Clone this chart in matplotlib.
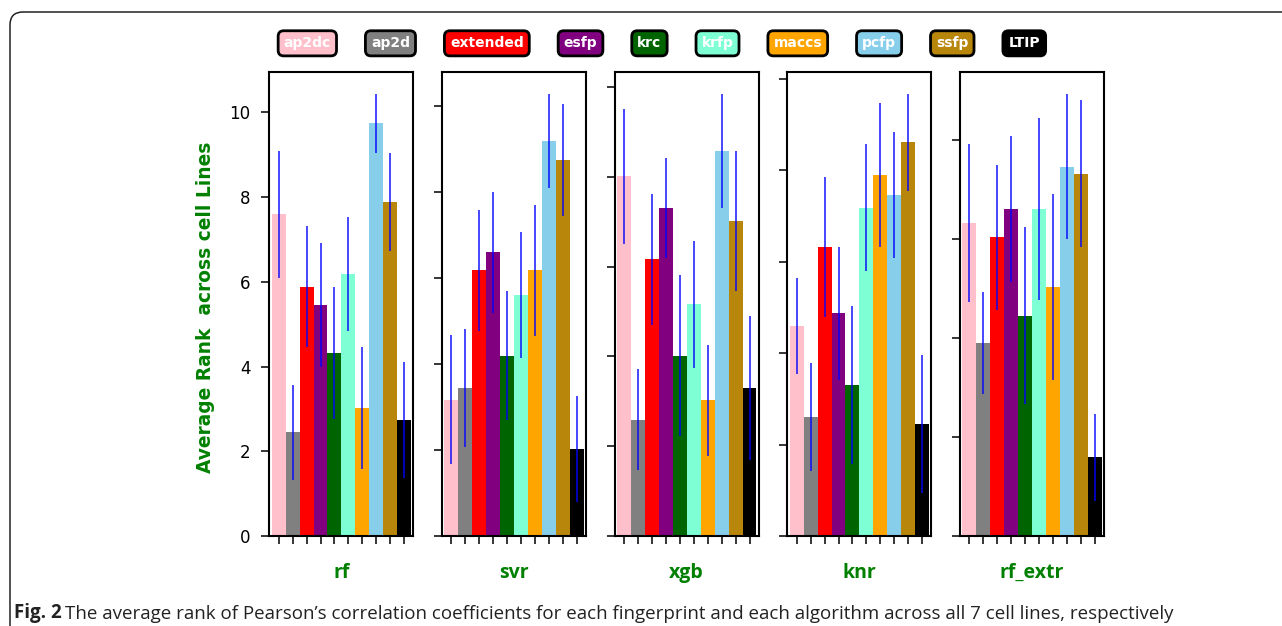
import numpy as np
import matplotlib.pyplot as plt
from matplotlib.patches import Patch, FancyBboxPatch

fingerprints = ['ap2dc', 'ap2d', 'extended', 'esfp', 'krc', 'krfp', 'maccs', 'pcfp', 'ssfp', 'LTIP']
colors = ['pink', 'gray', 'red', 'purple', 'darkgreen', 'aquamarine', 'orange',
          'skyblue', 'darkgoldenrod', 'black']
algorithms = ['rf', 'svr', 'xgb', 'knr', 'rf_extr']

# average rank (bar height) and spread (error bar half length) per algorithm
rf_mean = [7.60, 2.45, 5.89, 5.46, 4.33, 6.18, 3.02, 9.74, 7.89, 2.73]
rf_err = [1.50, 1.12, 1.42, 1.46, 1.56, 1.34, 1.44, 0.70, 1.16, 1.37]
svr_mean = [3.17, 3.45, 6.18, 6.60, 4.19, 5.61, 6.18, 9.19, 8.75, 2.03]
svr_err = [1.50, 1.37, 1.40, 1.41, 1.50, 1.47, 1.53, 1.10, 1.30, 1.23]
xgb_mean = [8.01, 2.59, 6.16, 7.30, 4.02, 5.16, 3.02, 8.58, 7.01, 3.30]
xgb_err = [1.51, 1.12, 1.45, 1.11, 1.79, 1.42, 1.23, 1.27, 1.56, 1.61]
knr_mean = [4.60, 2.60, 6.31, 4.87, 3.31, 7.18, 7.89, 7.45, 8.61, 2.45]
knr_err = [1.05, 1.18, 1.53, 1.45, 1.73, 1.39, 1.57, 1.38, 1.06, 1.50]
rfx_mean = [6.32, 3.89, 6.03, 6.60, 4.45, 6.60, 5.02, 7.46, 7.32, 1.59]
rfx_err = [1.60, 1.03, 1.47, 1.48, 1.78, 1.84, 1.88, 1.47, 1.49, 0.88]

means = [rf_mean, svr_mean, xgb_mean, knr_mean, rfx_mean]
errs = [rf_err, svr_err, xgb_err, knr_err, rfx_err]

caption_head = 'Fig. 2'
caption_body = ("The average rank of Pearson\u2019s correlation coefficients for each "
                "fingerprint and each algorithm across all 7 cell lines, respectively")

fig, axes = plt.subplots(nrows=1, ncols=5, figsize=(12.82, 6.26), dpi=100)
fig.subplots_adjust(left=0.2102, right=0.8612, bottom=0.1438, top=0.8855, wspace=0.2)

x = np.arange(len(fingerprints))
for i, ax in enumerate(axes):
    ax.bar(x, means[i], width=1.0, color=colors, yerr=errs[i], ecolor='blue',
           error_kw=dict(elinewidth=1.2, alpha=0.85))
    ax.set_xticks(x)
    ax.set_xticklabels([])
    ax.margins(x=0.016)
    ax.tick_params(direction='out', length=6, width=1.1, pad=7.5, labelsize=12)
    if i > 0:
        ax.tick_params(labelleft=False)
    for s in ax.spines.values():
        s.set_linewidth(1.5)
    ax.set_xlabel(algorithms[i], color='green', fontsize=14, fontweight='bold',
                  family='Open Sans', va='center')
    ax.xaxis.set_label_coords(0.5, -0.0797)

fig.text(0.1603, 0.5088, 'Average Rank  across cell Lines', rotation=90,
         ha='center', va='center', color='green', fontsize=13.4, fontweight='bold')

# legend as coloured label boxes
handles = [Patch(color=c, label=f) for f, c in zip(fingerprints, colors)]
leg = fig.legend(handles=handles, loc='center', bbox_to_anchor=(0.5163, 0.9308),
                 ncol=10, handlelength=0, handletextpad=0, columnspacing=2.88,
                 frameon=False, prop={'weight': 'bold', 'size': 10})
for h in leg.legend_handles:
    h.set_visible(False)
for t, c in zip(leg.get_texts(), colors):
    t.set_color('white')
    t.set_bbox(dict(boxstyle='round,pad=0.4', fc=c, ec='black', lw=2))

# caption
head = fig.text(13.5 / 1282, 1 - 618 / 626, caption_head, fontsize=13.5,
                fontweight='bold', family='Open Sans', color='#222222', va='baseline')
axes[0].annotate(caption_body, xy=(1, 0), xycoords=head, xytext=(4, 0),
                 textcoords='offset pixels', annotation_clip=False,
                 fontsize=13.5, family='Open Sans', color='#222222',
                 ha='left', va='bottom')

# outer frame of the figure panel
frame = FancyBboxPatch((0.10, -0.5), 13.5, 6.64, boxstyle='round,pad=0,rounding_size=0.13',
                       transform=fig.dpi_scale_trans, fill=False, ec='#222222', lw=1.1)
fig.add_artist(frame)

fig.savefig('out.png', dpi=100)
